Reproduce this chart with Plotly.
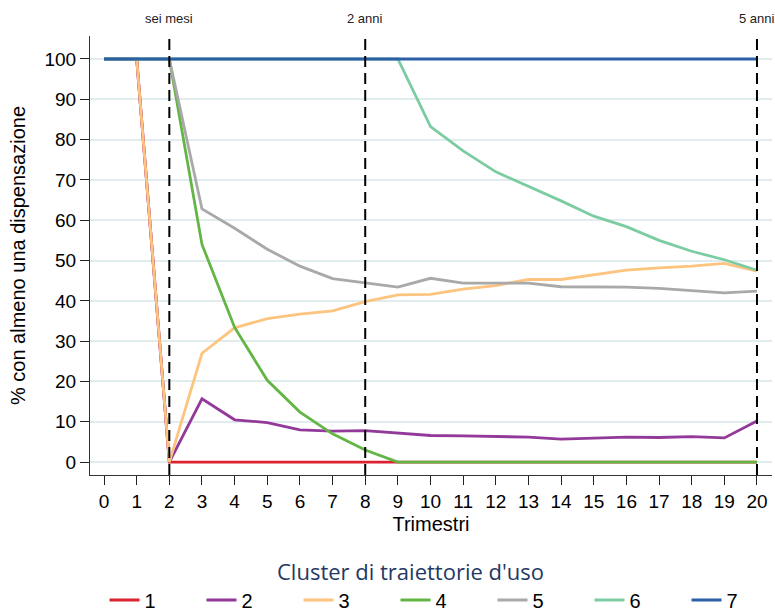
import plotly.graph_objects as go

# Quarters since start of therapy
trimestri = list(range(0, 21))

# Share (%) of patients with at least one dispensation, per usage-trajectory cluster
cluster_1 = [100, 100, 0, 0, 0, 0, 0, 0, 0, 0, 0, 0, 0, 0, 0, 0, 0, 0, 0, 0, 0]
cluster_2 = [100, 100, 0, 15.7, 10.5, 9.8, 8.0, 7.7, 7.8, 7.2, 6.6, 6.5, 6.3, 6.2,
             5.7, 5.9, 6.2, 6.1, 6.3, 6.0, 10.2]
cluster_3 = [100, 100, 0, 27.0, 33.3, 35.6, 36.7, 37.5, 39.8, 41.5, 41.6, 42.9, 43.8,
             45.3, 45.3, 46.5, 47.6, 48.2, 48.6, 49.3, 47.4]
cluster_4 = [100, 100, 100, 54.0, 33.4, 20.3, 12.4, 7.0, 3.0, 0, 0, 0, 0, 0, 0, 0, 0,
             0, 0, 0, 0]
cluster_5 = [100, 100, 100, 62.8, 58.0, 52.8, 48.6, 45.5, 44.4, 43.4, 45.6, 44.4,
             44.4, 44.4, 43.5, 43.5, 43.4, 43.1, 42.5, 42.0, 42.4]
cluster_6 = [100, 100, 100, 100, 100, 100, 100, 100, 100, 100, 83.2, 77.2, 72.0,
             68.5, 64.8, 61.0, 58.4, 55.0, 52.3, 50.2, 47.6]
cluster_7 = [100] * 21

series_names = ["1", "2", "3", "4", "5", "6", "7"]
series_values = [cluster_1, cluster_2, cluster_3, cluster_4, cluster_5, cluster_6, cluster_7]
series_colors = ["#dc2130", "#93399a", "#fcc47e", "#63b546", "#a9a9a9", "#7ccca2", "#2b5fa6"]

# Reference milestones (quarter index and label)
milestone_x = [2, 8, 20]
milestone_labels = ["sei mesi", "2 anni", "5 anni"]

legend_title = "Cluster di traiettorie d'uso"

tick_font = "Liberation Sans, Arial, sans-serif"

W, H = 775, 612
M_L, M_R, M_T, M_B = 90, 3, 36, 137
plot_w = W - M_L - M_R
plot_h = H - M_T - M_B


def px_to_paper_y(py):
    """Convert a pixel row (from the top of the figure) to paper y."""
    return (H - M_B - py) / plot_h


def px_to_paper_x(px):
    return (px - M_L) / plot_w


fig = go.Figure()
for name, vals, col in zip(series_names, series_values, series_colors):
    fig.add_trace(go.Scatter(
        x=trimestri, y=vals, name=name, mode="lines",
        line=dict(color=col, width=2.8),
    ))

for mx, ml in zip(milestone_x, milestone_labels):
    fig.add_shape(type="line", xref="x", yref="paper", x0=mx, x1=mx, y0=0, y1=1,
                  line=dict(color="black", width=2, dash="11px,6px"), layer="above")
    fig.add_annotation(x=mx, xref="x", y=1, yref="paper", yshift=18, text=ml,
                       showarrow=False, yanchor="middle", xanchor="center",
                       font=dict(family=tick_font, size=13, color="#222"))

# Legend caption, centred above the legend row
fig.add_annotation(
    text=legend_title, showarrow=False,
    xref="paper", yref="paper",
    x=px_to_paper_x(410), y=px_to_paper_y(571),
    xanchor="center", yanchor="middle",
    font=dict(family="Open Sans, sans-serif", size=22, color="#1f3864"),
)

fig.update_layout(
    width=W, height=H,
    margin=dict(l=M_L, r=M_R, t=M_T, b=M_B, autoexpand=False),
    paper_bgcolor="white", plot_bgcolor="white",
    font=dict(family=tick_font, size=19, color="black"),
    showlegend=True,
    legend=dict(
        orientation="h", x=px_to_paper_x(444), xanchor="center",
        y=px_to_paper_y(600), yanchor="middle",
        font=dict(family=tick_font, size=20, color="black"),
        entrywidth=52, entrywidthmode="pixels",
        itemwidth=30, tracegroupgap=0,
        bgcolor="rgba(0,0,0,0)",
    ),
)

fig.update_xaxes(
    range=[-0.43, 20.46], tickmode="array", tickvals=trimestri,
    ticks="outside", ticklen=9, tickwidth=1.2, tickcolor="#222",
    showline=True, linecolor="#333", linewidth=1.2,
    showgrid=False, zeroline=False,
    title=dict(text="Trimestri", font=dict(size=20), standoff=6),
    tickfont=dict(size=19),
)
fig.update_yaxes(
    range=[-3.2, 105.7], tickmode="array", tickvals=list(range(0, 101, 10)),
    ticks="outside", ticklen=9, tickwidth=1.2, tickcolor="#222",
    showline=True, linecolor="#333", linewidth=1.2,
    showgrid=True, gridcolor="#e1ecee", gridwidth=1.5, zeroline=False,
    title=dict(text="% con almeno una dispensazione", font=dict(size=20), standoff=13),
    tickfont=dict(size=19),
)

fig.write_html("out.html")
